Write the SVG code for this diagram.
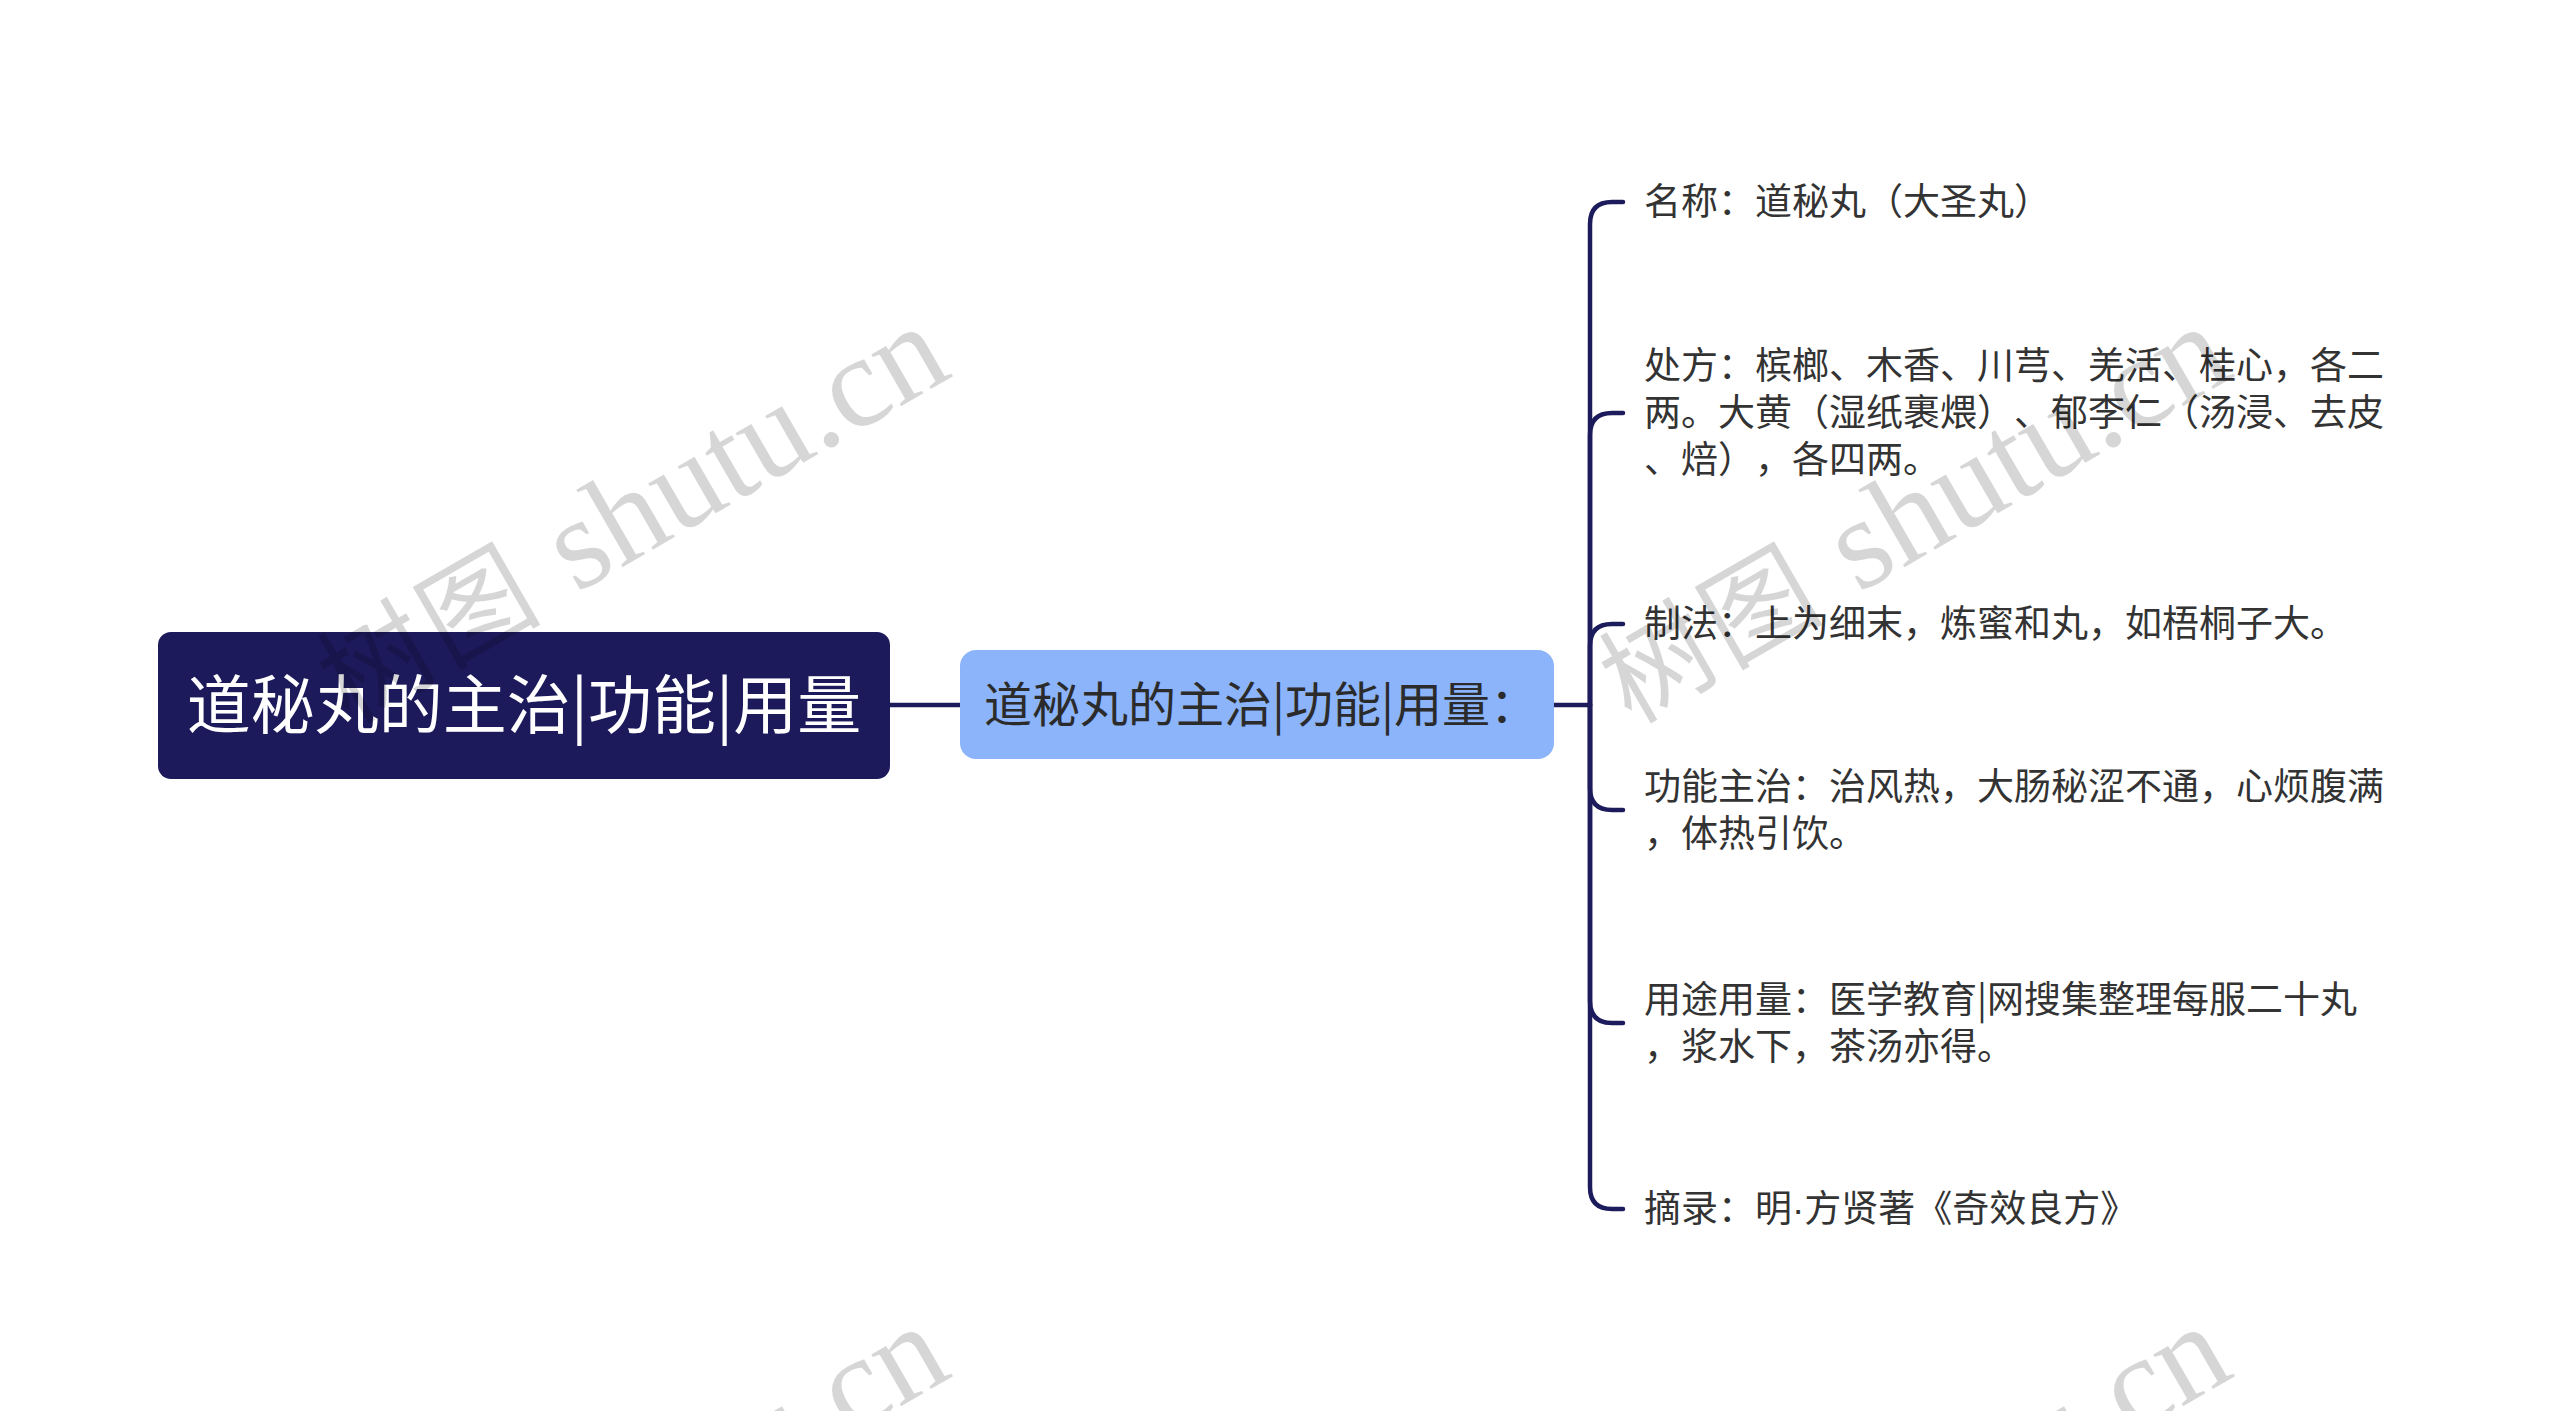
<svg xmlns="http://www.w3.org/2000/svg" width="2560" height="1411" viewBox="0 0 2560 1411">
<style>
.cjk{font-family:"Noto Sans CJK SC","Noto Sans",sans-serif;text-spacing-trim:space-all}
.child{font-size:37px;fill:#333333}
.dot{font-family:"Liberation Sans","Noto Sans",sans-serif}
.conn{fill:none;stroke:#1c1b5c;stroke-width:4.5;stroke-linecap:round}
.wm{font-family:"Liberation Serif","Noto Sans CJK SC",serif;font-size:130px;fill:#000;fill-opacity:0.16}
.wmc{font-size:110px;letter-spacing:5px}
</style>
<rect width="2560" height="1411" fill="#ffffff"/>
<g id="connectors">
<path class="conn" d="M890,705 H960"/>
<path class="conn" d="M1554,705 H1590"/>
<path class="conn" d="M1590,705 V224 Q1590,202 1612,202 H1623"/>
<path class="conn" d="M1590,705 V435 Q1590,413 1612,413 H1623"/>
<path class="conn" d="M1590,705 V646 Q1590,624 1612,624 H1623"/>
<path class="conn" d="M1590,705 V788 Q1590,810 1612,810 H1623"/>
<path class="conn" d="M1590,705 V1001 Q1590,1023 1612,1023 H1623"/>
<path class="conn" d="M1590,705 V1187 Q1590,1209 1612,1209 H1623"/>
</g>
<g id="root">
<rect x="158" y="632" width="732" height="147" rx="13" fill="#1c1a5b"/>
<text class="cjk" x="524" y="728" font-size="64" fill="#ffffff" text-anchor="middle">道秘丸的主治|功能|用量</text>
</g>
<g id="main">
<rect x="960" y="650" width="594" height="109" rx="16" fill="#8bb4fa"/>
<text class="cjk" x="984" y="722" font-size="48" fill="#2b2b2b">道秘丸的主治|功能|用量：</text>
</g>
<g id="n1"><text class="cjk child" x="1644" y="215">名称：道秘丸（大圣丸）</text></g>
<g id="n2"><text class="cjk child" x="1644" y="379">处方：槟榔、木香、川芎、羌活、桂心，各二</text>
<text class="cjk child" x="1644" y="426">两。大黄（湿纸裹煨）、郁李仁（汤浸、去皮</text>
<text class="cjk child" x="1644" y="473">、焙），各四两。</text></g>
<g id="n3"><text class="cjk child" x="1644" y="637">制法：上为细末，炼蜜和丸，如梧桐子大。</text></g>
<g id="n4"><text class="cjk child" x="1644" y="800">功能主治：治风热，大肠秘涩不通，心烦腹满</text>
<text class="cjk child" x="1644" y="847">，体热引饮。</text></g>
<g id="n5"><text class="cjk child" x="1644" y="1013">用途用量：医学教育|网搜集整理每服二十丸</text>
<text class="cjk child" x="1644" y="1060">，浆水下，茶汤亦得。</text></g>
<g id="n6"><text class="cjk child" x="1644" y="1222">摘录：明<tspan class="dot">·</tspan>方贤著《奇效良方》</text></g>
<g id="watermarks">
<text class="wm" transform="translate(349,725) rotate(-30)"><tspan class="wmc">树图</tspan> shutu.cn</text>
<text class="wm" transform="translate(1631,725) rotate(-30)"><tspan class="wmc">树图</tspan> shutu.cn</text>
<text class="wm" transform="translate(349,1725) rotate(-30)"><tspan class="wmc">树图</tspan> shutu.cn</text>
<text class="wm" transform="translate(1631,1725) rotate(-30)"><tspan class="wmc">树图</tspan> shutu.cn</text>
</g>
</svg>
